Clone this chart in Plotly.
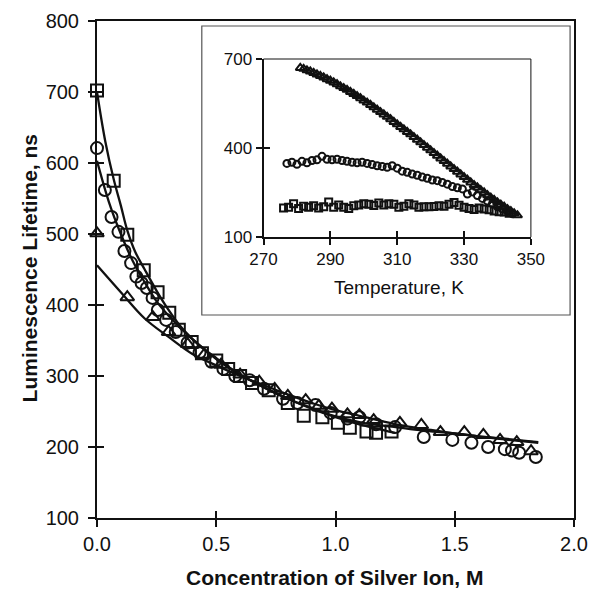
import plotly.graph_objects as go

# ---------------- main panel data (concentration, M ; lifetime, ns) -------------
sq_x = [0.0, 0.07, 0.127, 0.196, 0.254, 0.303, 0.343, 0.397, 0.44, 0.50, 0.55, 0.60, 0.65,
        0.72, 0.80, 0.867, 0.945, 1.01, 1.06, 1.13, 1.17, 1.235]
sq_y = [702, 575, 499, 449, 418, 389, 365, 348, 332, 322, 310, 300, 290,
        280, 262, 244, 242, 234, 227, 222, 220, 222]

ci_x = [0.0, 0.033, 0.061, 0.09, 0.115, 0.143, 0.165, 0.187, 0.209, 0.233, 0.255, 0.29,
        0.33, 0.38, 0.43, 0.48, 0.53, 0.58, 0.64, 0.70, 0.78, 0.84, 0.916, 0.98, 1.05,
        1.10, 1.17, 1.25, 1.37, 1.49, 1.57, 1.64, 1.71, 1.74, 1.77, 1.84]
ci_y = [621, 562, 524, 503, 476, 459, 440, 431, 424, 410, 393, 379,
        362, 347, 333, 320, 310, 300, 294, 282, 268, 262, 259, 248, 240,
        242, 232, 228, 214, 210, 206, 200, 197, 195, 192, 186]

tr_x = [0.0, 0.127, 0.234, 0.30, 0.38, 0.45, 0.52, 0.60, 0.68, 0.745, 0.80, 0.875, 0.93,
        0.985, 1.05, 1.10, 1.16, 1.27, 1.36, 1.44, 1.54, 1.62, 1.69, 1.76, 1.82]
tr_y = [501, 411, 383, 362, 345, 330, 316, 302, 292, 282, 272, 266, 258,
        254, 246, 245, 238, 234, 231, 221, 221, 217, 210, 207, 194]

# fitted curves
fit_sq_x = [0.0, 0.035, 0.07, 0.10, 0.127, 0.16, 0.20, 0.25, 0.30, 0.35, 0.40, 0.50, 0.60,
            0.70, 0.80, 0.90, 1.00, 1.10, 1.25]
fit_sq_y = [700, 630, 577, 540, 505, 475, 450, 420, 393, 370, 352, 324, 302,
            284, 268, 254, 242, 232, 220]
fit_ci_x = [0.0, 0.05, 0.10, 0.15, 0.20, 0.25, 0.30, 0.40, 0.50, 0.60, 0.70, 0.80, 0.90,
            1.00, 1.10, 1.20, 1.30, 1.40, 1.50, 1.60, 1.70, 1.85]
fit_ci_y = [603, 545, 500, 462, 432, 405, 385, 352, 325, 302, 284, 268, 255,
            243, 235, 230, 226, 222, 219, 215, 212, 207]
fit_tr_x = [0.0, 0.10, 0.20, 0.30, 0.40, 0.50, 0.60, 0.70, 0.80, 0.90, 1.00, 1.10, 1.20,
            1.30, 1.40, 1.50, 1.60, 1.70, 1.85]
fit_tr_y = [456, 418, 381, 355, 331, 315, 300, 287, 274, 262, 252, 244, 236,
            229, 224, 219, 215, 211, 206]

main_xticks = [0.0, 0.5, 1.0, 1.5, 2.0]
main_yticks = [100, 200, 300, 400, 500, 600, 700, 800]

# ---------------- inset data (temperature, K ; lifetime, ns) --------------------
in_tr_x = [281, 282, 283, 284, 285, 286, 287, 288, 289, 290, 291, 292, 293, 294, 295, 296,
           297, 298, 299, 300, 301, 302, 303, 304, 305, 306, 307, 308, 309, 310, 311, 312,
           313, 314, 315, 316, 317, 318, 319, 320, 321, 322, 323, 324, 325, 326, 327, 328,
           329, 330, 331, 332, 333, 334, 335, 336, 337, 338, 339, 340, 341, 342, 343, 344,
           345, 346]
in_tr_y = [670, 667, 662, 658, 653, 648, 643, 638, 632, 627, 621, 615, 608, 602, 596, 589,
           582, 575, 568, 560, 553, 545, 537, 529, 521, 513, 505, 497, 488, 480, 471, 463,
           454, 446, 437, 428, 419, 410, 401, 392, 383, 374, 365, 356, 347, 338, 329, 320,
           311, 302, 293, 284, 275, 267, 258, 250, 241, 233, 225, 217, 209, 202, 194, 187,
           180, 173]

in_ci_x = [277, 278.5, 280, 281.5, 283, 284.5, 286, 287.5, 289, 290.5, 292, 293.5, 295, 296.5,
           298, 299.5, 301, 302.5, 304, 305.5, 307, 308.5, 310, 311.5, 313, 314.5, 316, 317.5,
           319, 320.5, 322, 323.5, 325, 326.5, 328, 329.5, 331, 332.5, 334, 335.5, 337, 338.5,
           340, 341.5, 343, 344.5]
in_ci_y = [348, 352, 345, 355, 350, 358, 360, 372, 362, 360, 362, 358, 355, 352,
           350, 352, 348, 344, 340, 338, 335, 340, 332, 322, 318, 312, 308, 302,
           298, 292, 290, 284, 278, 270, 266, 262, 245, 252, 240, 230, 221, 212,
           202, 194, 186, 178]

in_sq_x = [276, 277.5, 279, 280.5, 282, 283.5, 285, 286.5, 288, 289.5, 291, 292.5, 294, 295.5,
           297, 298.5, 300, 301.5, 303, 304.5, 306, 307.5, 309, 310.5, 312, 313.5, 315, 316.5,
           318, 319.5, 321, 322.5, 324, 325.5, 327, 328.5, 330, 331.5, 333, 334.5, 336, 337.5,
           339, 340.5, 342, 343.5]
in_sq_y = [198, 200, 212, 196, 204, 200, 205, 198, 202, 218, 200, 208, 200, 196,
           205, 208, 212, 210, 206, 215, 208, 212, 210, 200, 204, 212, 208, 200,
           202, 202, 203, 205, 204, 210, 216, 207, 200, 196, 193, 198, 194, 192,
           188, 185, 184, 180]

inset_xticks = [270, 290, 310, 330, 350]
inset_yticks = [100, 400, 700]

FONT = "Liberation Sans, Arial, sans-serif"
BLACK = "#111111"

# Reference plot area in page pixels: x 97..584, y 21..518
W, H = 600, 594
PL, PR, PT, PB = 97, 584, 21, 518


def px(p):
    return (p - PL) / (PR - PL)


def py(p):
    return (PB - p) / (PB - PT)


fig = go.Figure()

# main fits
for fx, fy in [(fit_sq_x, fit_sq_y), (fit_ci_x, fit_ci_y), (fit_tr_x, fit_tr_y)]:
    fig.add_trace(go.Scatter(x=fx, y=fy, mode="lines", line=dict(color=BLACK, width=2.3),
                             line_shape="spline", showlegend=False, cliponaxis=False,
                             hoverinfo="skip"))

# main markers
for mx, my, sym in [(sq_x, sq_y, "square-open"), (ci_x, ci_y, "circle-open"),
                    (tr_x, tr_y, "triangle-up-open")]:
    fig.add_trace(go.Scatter(x=mx, y=my, mode="markers", showlegend=False, cliponaxis=False,
                             marker=dict(symbol=sym, size=12, color=BLACK,
                                         line=dict(color=BLACK, width=2))))

# inset markers
for mx, my, sym, sz in [(in_sq_x, in_sq_y, "square-open", 7),
                        (in_ci_x, in_ci_y, "circle-open", 7),
                        (in_tr_x, in_tr_y, "triangle-up-open", 8)]:
    fig.add_trace(go.Scatter(x=mx, y=my, mode="markers", showlegend=False, cliponaxis=False,
                             xaxis="x2", yaxis="y2",
                             marker=dict(symbol=sym, size=sz, color=BLACK,
                                         line=dict(color=BLACK, width=2))))

# invisible traces that make the inside-tick overlay axes render
fig.add_trace(go.Scatter(x=[1.0], y=[450], xaxis="x3", yaxis="y3", mode="markers",
                         marker=dict(opacity=0), showlegend=False, hoverinfo="skip"))
fig.add_trace(go.Scatter(x=[300], y=[400], xaxis="x4", yaxis="y4", mode="markers",
                         marker=dict(opacity=0), showlegend=False, hoverinfo="skip"))

tickfont_main = dict(family=FONT, size=20, color=BLACK)
tickfont_in = dict(family=FONT, size=17, color=BLACK)

X2DOM = [px(267), px(540)]
Y2DOM = [py(237), py(59)]

fig.update_layout(
    width=W, height=H,
    margin=dict(l=PL, r=W - PR, t=PT, b=H - PB),
    paper_bgcolor="white", plot_bgcolor="white",
    xaxis=dict(range=[0, 2.0], tickvals=main_xticks, tickformat=".1f", ticks="outside",
               ticklen=7, tickwidth=2, tickcolor=BLACK, showline=True, linewidth=2,
               linecolor=BLACK, mirror=True, showgrid=False, zeroline=False,
               tickfont=tickfont_main, domain=[0, 1], anchor="y", automargin=False),
    yaxis=dict(range=[100, 800], tickvals=main_yticks, ticks="outside", ticklen=7,
               tickwidth=2, tickcolor=BLACK, showline=True, linewidth=2, linecolor=BLACK,
               mirror=True, showgrid=False, zeroline=False, tickfont=tickfont_main,
               domain=[0, 1], anchor="x", ticklabelstandoff=5, automargin=False),
    xaxis3=dict(range=[0, 2.0], tickvals=main_xticks, ticks="inside", ticklen=7,
                tickwidth=2, tickcolor=BLACK, showticklabels=False, showline=False,
                showgrid=False, zeroline=False, overlaying="x", anchor="y"),
    yaxis3=dict(range=[100, 800], tickvals=main_yticks, ticks="inside", ticklen=7,
                tickwidth=2, tickcolor=BLACK, showticklabels=False, showline=False,
                showgrid=False, zeroline=False, overlaying="y", anchor="x"),
    xaxis2=dict(range=[270, 350], tickvals=inset_xticks, ticks="outside", ticklen=6,
                tickwidth=1.5, tickcolor=BLACK, showline=True, linewidth=2, linecolor=BLACK,
                showgrid=False, zeroline=False, tickfont=tickfont_in, domain=X2DOM,
                anchor="y2"),
    yaxis2=dict(range=[100, 700], tickvals=inset_yticks, ticks="outside", ticklen=6,
                tickwidth=1.5, tickcolor=BLACK, showline=True, linewidth=2, linecolor=BLACK,
                showgrid=False, zeroline=False, tickfont=tickfont_in, domain=Y2DOM,
                anchor="x2"),
    xaxis4=dict(range=[270, 350], tickvals=inset_xticks, ticks="inside", ticklen=6,
                tickwidth=1.5, tickcolor=BLACK, showticklabels=False, showline=False,
                showgrid=False, zeroline=False, overlaying="x2", anchor="y2"),
    yaxis4=dict(range=[100, 700], tickvals=inset_yticks, ticks="inside", ticklen=6,
                tickwidth=1.5, tickcolor=BLACK, showticklabels=False, showline=False,
                showgrid=False, zeroline=False, overlaying="y2", anchor="x2"),
    shapes=[
        # inset outer frame
        dict(type="rect", xref="paper", yref="paper", x0=px(204), x1=px(580),
             y0=py(315), y1=py(26),
             line=dict(color="#555555", width=1.2), fillcolor="white", layer="below"),
        # inset plot top/right borders (thin)
        dict(type="line", xref="x2 domain", yref="y2 domain", x0=0, x1=1, y0=1, y1=1,
             line=dict(color=BLACK, width=1)),
        dict(type="line", xref="x2 domain", yref="y2 domain", x0=1, x1=1, y0=0, y1=1,
             line=dict(color=BLACK, width=1)),
    ],
    annotations=[
        dict(text="<b>Luminescence Lifetime, ns</b>", xref="paper", yref="paper",
             x=px(28), y=py(268), textangle=-90, showarrow=False, xanchor="center",
             yanchor="middle", font=dict(family=FONT, size=21, color=BLACK)),
        dict(text="<b>Concentration of Silver Ion, M</b>", xref="paper", yref="paper",
             x=px(340), y=py(577), showarrow=False, xanchor="center", yanchor="middle",
             font=dict(family=FONT, size=21, color=BLACK)),
        dict(text="Temperature, K", xref="paper", yref="paper", x=px(405), y=py(287),
             showarrow=False, xanchor="center", yanchor="middle",
             font=dict(family=FONT, size=19, color=BLACK)),
    ],
)

# remove the browser's default page margin so the figure fills the 600x594 window exactly
fig.write_html("out.html",
               config={"displayModeBar": False},
               post_script="document.body.style.margin='0';"
                           "document.body.style.overflow='hidden';"
                           "document.documentElement.style.overflow='hidden';")
